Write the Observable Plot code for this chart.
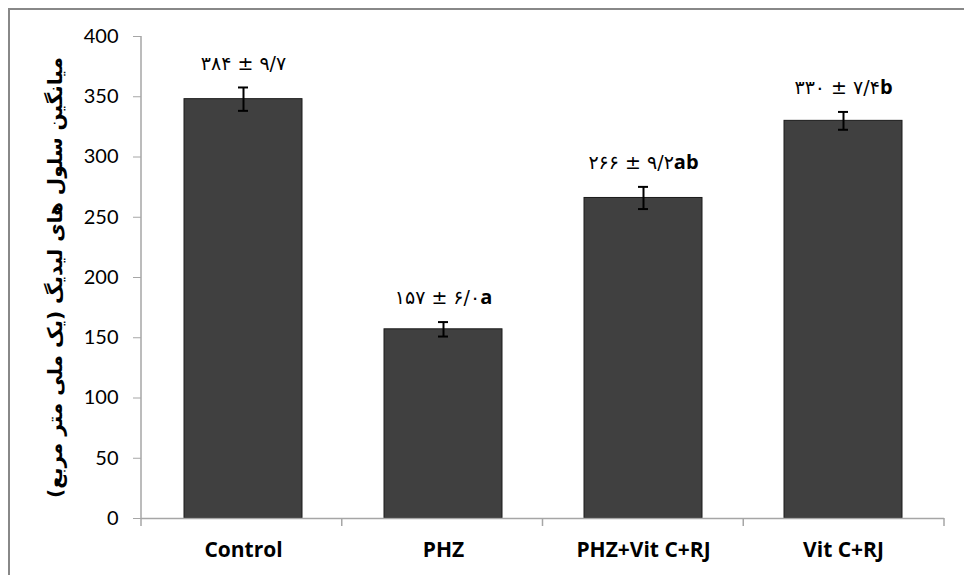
<!DOCTYPE html>
<html><head><meta charset="utf-8">
<script src="https://cdn.jsdelivr.net/npm/d3@7"></script>
<script src="https://cdn.jsdelivr.net/npm/@observablehq/plot@0.6"></script>
<style>
body{margin:0;background:#fff;}
#wrap{position:relative;width:964px;height:575px;overflow:hidden;}
#frame{position:absolute;left:8px;top:8px;width:1200px;height:1200px;border-left:2px solid #888;border-top:2px solid #888;pointer-events:none;}
svg{position:absolute;left:0;top:0;}
g[aria-label="y-axis tick label"] text{font-family:Lato,sans-serif;font-size:20px;fill:#000;}
g[aria-label="x-axis tick label"] text{font-family:"Open Sans",sans-serif;font-size:21px;font-weight:bold;fill:#000;}
g[aria-label="y-axis label"] text{font-family:"DejaVu Sans",sans-serif;font-size:20px;font-weight:bold;fill:#000;}
</style>
</head><body>
<div id="wrap"><div id="frame"></div></div>
<script>
const groups = ["Control", "PHZ", "PHZ+Vit C+RJ", "Vit C+RJ"];
const means = [348, 157, 266, 330];
const sems = [9.7, 6.0, 9.2, 7.4];
const labels = ["۳۸۴ ± ۹/۷", "۱۵۷ ± ۶/۰", "۲۶۶ ± ۹/۲", "۳۳۰ ± ۷/۴"];
const letters = ["", "a", "ab", "b"];
const yTicks = [0, 50, 100, 150, 200, 250, 300, 350, 400];
const yTitle = "میانگین سلول های لیدیگ (یک ملی متر مربع)";

const data = groups.map((g, i) => ({g, m: means[i], e: sems[i], lab: labels[i], let: letters[i]}));

const plot = Plot.plot({
  width: 964, height: 575,
  marginLeft: 141, marginRight: 20, marginTop: 36, marginBottom: 57,
  style: {background: "transparent", overflow: "visible"},
  x: {domain: groups, paddingInner: 0.41, paddingOuter: 0.205, label: null},
  y: {domain: [0, 400], label: yTitle},
  marks: [
    Plot.barY(data, {x: "g", y: "m", fill: "#404040", stroke: "#1a1a1a", strokeWidth: 1}),
    Plot.ruleY([0], {stroke: "#a6a6a6", strokeWidth: 1.5}),
    Plot.ruleX(data, {x: "g", y1: d => d.m - d.e, y2: d => d.m + d.e, stroke: "#000", strokeWidth: 2}),
    Plot.tickY(data, {x: "g", y: d => d.m - d.e, stroke: "#000", strokeWidth: 2, insetLeft: 54, insetRight: 54}),
    Plot.tickY(data, {x: "g", y: d => d.m + d.e, stroke: "#000", strokeWidth: 2, insetLeft: 54, insetRight: 54}),
    Plot.text(data, {x: "g", y: d => d.m + d.e, text: "lab", dy: -24, fontFamily: "DejaVu Sans", fontSize: 19, fill: "#000"}),
    Plot.axisY({ticks: yTicks, tickSize: 8, tickPadding: 15, stroke: "#a6a6a6", labelAnchor: "center", labelOffset: 94, labelArrow: "none"}),
    Plot.axisX({tickSize: 0, tickPadding: 24})
  ]
});

document.getElementById("wrap").appendChild(plot);
const svg = d3.select(plot);
// bold significance letters
svg.selectAll('g[aria-label="text"] text').each(function(d, i) {
  const l = letters[i];
  if (l) d3.select(this).append("tspan").attr("font-family", "Open Sans, sans-serif").attr("font-weight", "bold").attr("font-size", 20).text(l);
});
// axis lines & category separator ticks
const xs = plot.scale("x"), ys = plot.scale("y");
const x0 = xs.range[0], x1 = xs.range[1], y0 = ys.apply(0), yTop = ys.apply(400);
const step = (x1 - x0) / groups.length;
svg.append("line").attr("x1", x0).attr("x2", x0).attr("y1", yTop).attr("y2", y0).attr("stroke", "#a6a6a6").attr("stroke-width", 1.5);
for (let k = 0; k <= groups.length; k++) {
  const xx = x0 + k * step;
  svg.append("line").attr("x1", xx).attr("x2", xx).attr("y1", y0).attr("y2", y0 + 8).attr("stroke", "#a6a6a6").attr("stroke-width", 1.5);
}
</script>
</body></html>
